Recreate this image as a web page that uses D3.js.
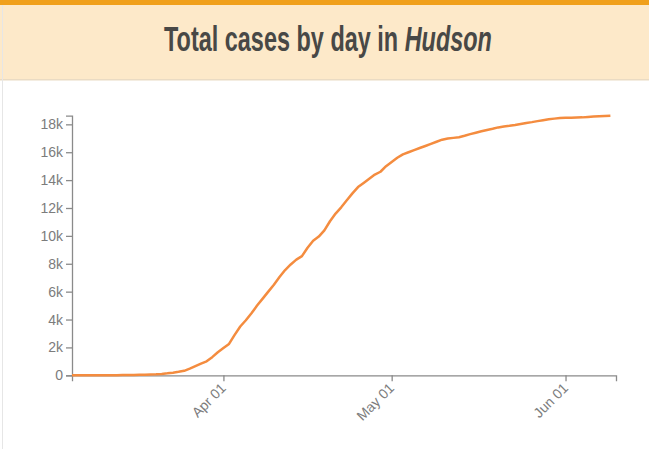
<!DOCTYPE html>
<html>
<head>
<meta charset="utf-8">
<script src="https://cdn.jsdelivr.net/npm/d3@7"></script>
<style>
  html, body { margin: 0; padding: 0; background: #ffffff; }
  svg { display: block; }
</style>
</head>
<body>
<svg id="chart" width="649" height="449"></svg>
<script>
// ---- data ----
const startDate = "2020-03-05";
const endDomainDate = "2020-06-10";
const totalCases = [
  0, 0, 1, 2, 3, 5, 7, 10, 12, 15,
  20, 25, 35, 45, 55, 70, 100, 140, 190, 250,
  320, 480, 660, 840, 1000, 1300, 1650, 1950, 2250, 2900,
  3500, 3950, 4450, 5000, 5500, 6000, 6500, 7050, 7550, 7950,
  8300, 8550, 9150, 9650, 9950, 10400, 11050, 11600, 12050, 12550,
  13050, 13500, 13800, 14100, 14400, 14600, 15000, 15300, 15600, 15850,
  16000, 16150, 16300, 16450, 16600, 16750, 16900, 16980, 17030, 17080,
  17180, 17300, 17400, 17500, 17600, 17680, 17780, 17850, 17900, 17960,
  18030, 18100, 18160, 18230, 18300, 18360, 18410, 18450, 18470, 18480,
  18490, 18500, 18530, 18560, 18580, 18600, 18620
];
const yTickValues = [0, 2000, 4000, 6000, 8000, 10000, 12000, 14000, 16000, 18000];
const titleMain = "Total cases by day in ";
const titleCounty = "Hudson";

// ---- build ----
const parse = d3.utcParse("%Y-%m-%d");
const t0 = parse(startDate);
const data = totalCases.map((v, i) => ({ date: d3.utcDay.offset(t0, i), value: v }));

const svg = d3.select("#chart");
const W = 649, H = 449;

// header
svg.append("rect").attr("x", 0).attr("y", 0).attr("width", W).attr("height", 80).attr("fill", "#fde9c9");
svg.append("rect").attr("x", 0).attr("y", 79).attr("width", W).attr("height", 1.5).attr("fill", "#eadbc3");
svg.append("rect").attr("x", 0).attr("y", 0).attr("width", W).attr("height", 5).attr("fill", "#f0a01c");
svg.append("rect").attr("x", 2).attr("y", 5).attr("width", 1).attr("height", H - 5).attr("fill", "#e6e6e6");

const title = svg.append("text")
  .attr("x", 0).attr("y", 51)
  .attr("fill", "#484846")
  .style("font-family", "'Liberation Sans Narrow', 'Liberation Sans', Arial, sans-serif")
  .style("font-weight", "bold")
  .style("font-size", "36px");
title.append("tspan").text(titleMain);
title.append("tspan").style("font-style", "italic").text(titleCounty);
const bb = title.node().getBBox();
const targetW = 328, targetX = 164;
const sx = targetW / bb.width;
title.attr("transform", `translate(${targetX - bb.x * sx},0) scale(${sx},1)`);

// chart
const mLeft = 72, mRight = 616, mTop = 115.7, mBottom = 375.3;
const x = d3.scaleUtc().domain([t0, parse(endDomainDate)]).range([mLeft, mRight]);
const y = d3.scaleLinear().domain([0, d3.max(totalCases)]).range([mBottom, mTop]);

const yAxis = svg.append("g")
  .attr("transform", `translate(${mLeft},0)`)
  .call(d3.axisLeft(y).tickValues(yTickValues).tickFormat(d3.format("~s")).tickSizeOuter(6));

const xAxis = svg.append("g")
  .attr("transform", `translate(0,${mBottom})`)
  .call(d3.axisBottom(x).ticks(d3.utcMonth.every(1)).tickFormat(d3.utcFormat("%b %d")).tickSizeOuter(6));

xAxis.selectAll(".tick text")
  .style("text-anchor", "end")
  .attr("dx", "-0.55em")
  .attr("dy", "0.2em")
  .attr("transform", "rotate(-45)");

[xAxis, yAxis].forEach(g => {
  g.selectAll("path.domain").attr("stroke", "#8a8a8a").attr("stroke-width", 1.3);
  g.selectAll(".tick line").attr("stroke", "#8a8a8a").attr("stroke-width", 1.3);
  g.selectAll(".tick text").attr("fill", "#7c7c7c")
    .style("font-family", "'Liberation Sans', Arial, sans-serif").style("font-size", "14px");
});

const line = d3.line().x(d => x(d.date)).y(d => y(d.value));
svg.append("path").datum(data)
  .attr("d", line)
  .attr("fill", "none")
  .attr("stroke", "#f48c3f")
  .attr("stroke-width", 2.5)
  .attr("stroke-linejoin", "round");
</script>
</body>
</html>
